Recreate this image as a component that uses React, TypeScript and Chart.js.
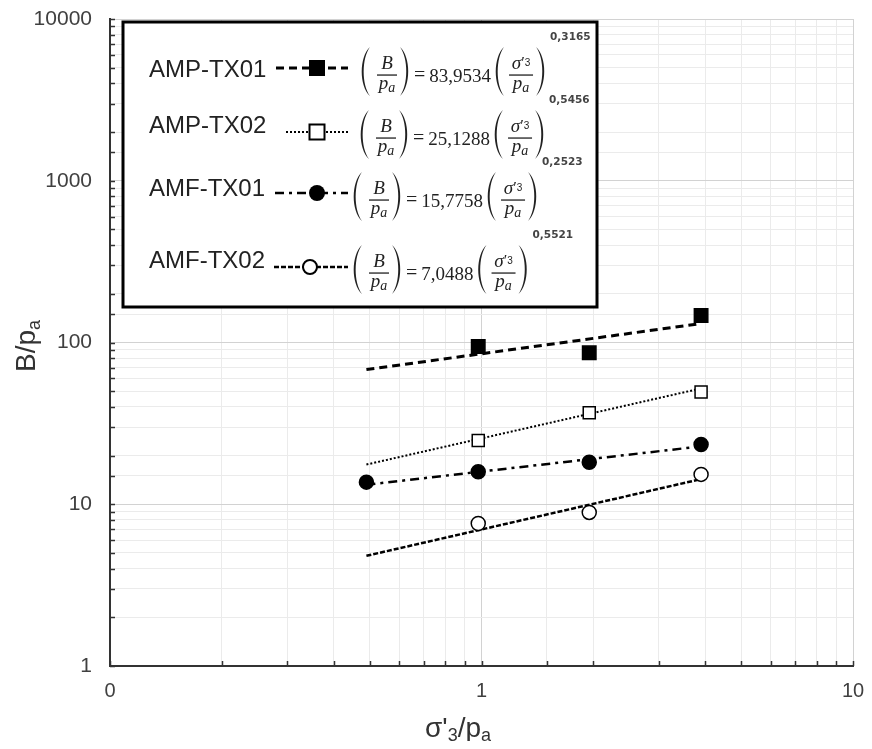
import React, { useEffect, useRef } from "react";
import { Chart, registerables } from "chart.js";

Chart.register(...registerables);

// ---- data ----
const ampTx01X = [0.98, 1.95, 3.9];
const ampTx01Y = [94.5, 86.4, 147];
const ampTx02X = [0.98, 1.95, 3.9];
const ampTx02Y = [24.8, 36.8, 49.4];
const amfTx01X = [0.49, 0.98, 1.95, 3.9];
const amfTx01Y = [13.7, 15.9, 18.2, 23.4];
const amfTx02X = [0.98, 1.95, 3.9];
const amfTx02Y = [7.6, 8.9, 15.3];

const fitX = [0.49, 3.9];
const ampTx01Fit = [68, 131];
const ampTx02Fit = [17.6, 52];
const amfTx01Fit = [13.2, 22.8];
const amfTx02Fit = [4.8, 14.3];

const xMajorTicks = [0.1, 1, 10];
const xMajorLabels = ["0", "1", "10"];
const yMajorTicks = [1, 10, 100, 1000, 10000];
const yMajorLabels = ["1", "10", "100", "1000", "10000"];

const legendNames = ["AMP-TX01", "AMP-TX02", "AMF-TX01", "AMF-TX02"];
const legendCoefs = ["83,9534", "25,1288", "15,7758", "7,0488"];
const legendExps = ["0,3165", "0,5456", "0,2523", "0,5521"];

const SANS = '"Liberation Sans", Arial, sans-serif';
const SERIF = '"Liberation Serif", "Times New Roman", serif';
const OFF = 8; // page -> canvas offset

const pts = (xs: number[], ys: number[]) => xs.map((x, i) => ({ x, y: ys[i] }));

function labelFor(v: number, ticks: number[], labels: string[]) {
  for (let i = 0; i < ticks.length; i++) {
    if (Math.abs(v - ticks[i]) / ticks[i] < 1e-6) return labels[i];
  }
  return "";
}
function isMajor(v: number) {
  const l = Math.log10(v);
  return Math.abs(l - Math.round(l)) < 1e-6;
}

type Part = { t: string; size: number; dy?: number; italic?: boolean; bold?: boolean; fam?: string };

function fontOf(p: Part) {
  return `${p.italic ? "italic " : ""}${p.bold ? "bold " : ""}${p.size}px ${p.fam || SANS}`;
}
function richWidth(ctx: CanvasRenderingContext2D, parts: Part[]) {
  let w = 0;
  for (const p of parts) {
    ctx.font = fontOf(p);
    w += ctx.measureText(p.t).width;
  }
  return w;
}
function drawRich(ctx: CanvasRenderingContext2D, parts: Part[], x: number, y: number, align: "left" | "center") {
  let cx = align === "center" ? x - richWidth(ctx, parts) / 2 : x;
  ctx.textAlign = "left";
  ctx.textBaseline = "alphabetic";
  for (const p of parts) {
    ctx.font = fontOf(p);
    ctx.fillText(p.t, cx, y + (p.dy || 0));
    cx += ctx.measureText(p.t).width;
  }
  return cx;
}

// paren occupying [x, x+w]
function drawParen(ctx: CanvasRenderingContext2D, x: number, top: number, bottom: number, left: boolean) {
  const h = bottom - top;
  const w = 10;
  const t = 2.6;
  ctx.beginPath();
  if (left) {
    ctx.moveTo(x + w, top);
    ctx.bezierCurveTo(x - 1, top + h * 0.2, x - 1, bottom - h * 0.2, x + w, bottom);
    ctx.bezierCurveTo(x - 1 + t, bottom - h * 0.23, x - 1 + t, top + h * 0.23, x + w, top);
  } else {
    ctx.moveTo(x, top);
    ctx.bezierCurveTo(x + w + 1, top + h * 0.2, x + w + 1, bottom - h * 0.2, x, bottom);
    ctx.bezierCurveTo(x + w + 1 - t, bottom - h * 0.23, x + w + 1 - t, top + h * 0.23, x, top);
  }
  ctx.fill();
}

function drawFraction(ctx: CanvasRenderingContext2D, cx: number, by: number, half: number, num: Part[], den: Part[]) {
  drawRich(ctx, num, cx, by - 6, "center");
  ctx.fillRect(cx - half, by - 0.6, half * 2, 1.3);
  drawRich(ctx, den, cx, by + 14, "center");
}

function drawFormula(ctx: CanvasRenderingContext2D, sx: number, by: number, coef: string, exp: string) {
  ctx.fillStyle = "#222";
  const top = by - 28;
  const bot = by + 21;
  drawParen(ctx, sx, top, bot, true);
  drawFraction(ctx, sx + 27, by, 10,
    [{ t: "B", size: 19, italic: true, fam: SERIF }],
    [{ t: "p", size: 19, italic: true, fam: SERIF }, { t: "a", size: 14, italic: true, fam: SERIF, dy: 3 }]);
  drawParen(ctx, sx + 40, top, bot, false);
  const eqEnd = drawRich(ctx, [{ t: "=", size: 20, fam: SERIF }], sx + 54, by + 6, "left");
  const cEnd = drawRich(ctx, [{ t: coef, size: 19, fam: SERIF }], eqEnd + 4, by + 7, "left");
  const lp = cEnd + 3;
  drawParen(ctx, lp, top, bot, true);
  drawFraction(ctx, lp + 27, by, 12,
    [{ t: "σ", size: 19, italic: true, fam: SERIF }, { t: "′", size: 16, fam: SERIF, dy: -1 }, { t: "3", size: 10, fam: SANS, dy: -3 }],
    [{ t: "p", size: 19, italic: true, fam: SERIF }, { t: "a", size: 14, italic: true, fam: SERIF, dy: 3 }]);
  drawParen(ctx, lp + 42, top, bot, false);
  ctx.fillStyle = "#444";
  drawRich(ctx, [{ t: exp, size: 10.5, bold: true, fam: '"DejaVu Sans", sans-serif' }], lp + 56, by - 35, "left");
}

function drawMarker(ctx: CanvasRenderingContext2D, kind: string, x: number, y: number) {
  ctx.setLineDash([]);
  ctx.lineWidth = 2;
  ctx.strokeStyle = "#000";
  if (kind === "fsq") {
    ctx.fillStyle = "#000";
    ctx.fillRect(x - 8, y - 8, 16, 16);
  } else if (kind === "osq") {
    ctx.fillStyle = "#fff";
    ctx.fillRect(x - 7.5, y - 7.5, 15, 15);
    ctx.strokeRect(x - 7.5, y - 7.5, 15, 15);
  } else if (kind === "fci") {
    ctx.fillStyle = "#000";
    ctx.beginPath();
    ctx.arc(x, y, 8, 0, Math.PI * 2);
    ctx.fill();
  } else {
    ctx.fillStyle = "#fff";
    ctx.beginPath();
    ctx.arc(x, y, 7, 0, Math.PI * 2);
    ctx.fill();
    ctx.stroke();
  }
}

const legendRows = [
  { labelY: 77, lineY: 68, x0: 276, x1: 348, dash: [8, 5], lw: 3, mk: "fsq", mx: 317, fx: 360, by: 75 },
  { labelY: 133, lineY: 132, x0: 286, x1: 348, dash: [2, 2], lw: 2, mk: "osq", mx: 317, fx: 359, by: 138 },
  { labelY: 196, lineY: 193, x0: 275, x1: 348, dash: [9, 5, 3, 5], lw: 2.5, mk: "fci", mx: 317, fx: 352, by: 200 },
  { labelY: 268, lineY: 267, x0: 274, x1: 348, dash: [5, 2], lw: 2.5, mk: "oci", mx: 310, fx: 352, by: 273 },
];

const overlayPlugin = {
  id: "overlay",
  afterDraw(chart: any) {
    const ctx: CanvasRenderingContext2D = chart.ctx;
    const xs = chart.scales.x;
    const ys = chart.scales.y;
    const area = chart.chartArea;
    ctx.save();
    // inward tick marks
    ctx.strokeStyle = "#333";
    ctx.lineWidth = 1.5;
    ctx.setLineDash([]);
    for (const t of xs.ticks) {
      const px = Math.round(xs.getPixelForValue(t.value)) + 0.5;
      ctx.beginPath();
      ctx.moveTo(px, area.bottom);
      ctx.lineTo(px, area.bottom - 5);
      ctx.stroke();
    }
    for (const t of ys.ticks) {
      const py = Math.round(ys.getPixelForValue(t.value)) + 0.5;
      ctx.beginPath();
      ctx.moveTo(area.left, py);
      ctx.lineTo(area.left + 5, py);
      ctx.stroke();
    }
    // axis titles
    ctx.fillStyle = "#333";
    drawRich(ctx, [
      { t: "σ'", size: 28 },
      { t: "3", size: 18, dy: 4 },
      { t: "/p", size: 28 },
      { t: "a", size: 18, dy: 4 },
    ], 458 - OFF, 737 - OFF, "center");
    ctx.save();
    ctx.translate(35 - OFF, 346 - OFF);
    ctx.rotate(-Math.PI / 2);
    drawRich(ctx, [
      { t: "B/p", size: 28 },
      { t: "a", size: 18, dy: 5 },
    ], 0, 0, "center");
    ctx.restore();

    // legend box
    const bx = 123 - OFF, by = 22 - OFF, bw = 597 - 123, bh = 307 - 22;
    ctx.fillStyle = "#fff";
    ctx.fillRect(bx, by, bw, bh);
    ctx.strokeStyle = "#000";
    ctx.lineWidth = 3;
    ctx.strokeRect(bx, by, bw, bh);

    legendRows.forEach((r, i) => {
      ctx.fillStyle = "#222";
      drawRich(ctx, [{ t: legendNames[i], size: 24 }], 149 - OFF, r.labelY - OFF, "left");
      ctx.strokeStyle = "#000";
      ctx.lineWidth = r.lw;
      ctx.setLineDash(r.dash);
      ctx.beginPath();
      ctx.moveTo(r.x0 - OFF, r.lineY - OFF);
      ctx.lineTo(r.x1 - OFF, r.lineY - OFF);
      ctx.stroke();
      drawMarker(ctx, r.mk, r.mx - OFF, r.lineY - OFF);
      drawFormula(ctx, r.fx - OFF, r.by - OFF, legendCoefs[i], legendExps[i]);
    });
    ctx.restore();
  },
};

export default function App() {
  const ref = useRef<HTMLCanvasElement>(null);
  useEffect(() => {
    if (!ref.current) return;
    const pointDs = (data: any, style: string, r: number, fill: string) => ({
      data,
      showLine: false,
      pointStyle: style,
      pointRadius: r,
      pointBackgroundColor: fill,
      pointBorderColor: "#000",
      pointBorderWidth: 1.5,
      order: 0,
    });
    const lineDs = (data: any, dash: number[], w: number) => ({
      data,
      showLine: true,
      borderColor: "#000",
      borderWidth: w,
      borderDash: dash,
      pointRadius: 0,
      fill: false,
      order: 1,
    });
    const chart = new Chart(ref.current, {
      type: "scatter",
      data: {
        datasets: [
          { label: "AMP-TX01", ...pointDs(pts(ampTx01X, ampTx01Y), "rect", 9.5, "#000") },
          { label: "AMP-TX02", ...pointDs(pts(ampTx02X, ampTx02Y), "rect", 8.5, "#fff") },
          { label: "AMF-TX01", ...pointDs(pts(amfTx01X, amfTx01Y), "circle", 7, "#000") },
          { label: "AMF-TX02", ...pointDs(pts(amfTx02X, amfTx02Y), "circle", 7, "#fff") },
          { label: "fit AMP-TX01", ...lineDs(pts(fitX, ampTx01Fit), [8, 5], 3) },
          { label: "fit AMP-TX02", ...lineDs(pts(fitX, ampTx02Fit), [2, 2], 2) },
          { label: "fit AMF-TX01", ...lineDs(pts(fitX, amfTx01Fit), [9, 5, 3, 5], 2.5) },
          { label: "fit AMF-TX02", ...lineDs(pts(fitX, amfTx02Fit), [5, 2], 2.5) },
        ] as any,
      },
      options: {
        animation: false,
        responsive: false,
        devicePixelRatio: 1,
        layout: { padding: { top: 10, right: 8, left: 0, bottom: 0 } },
        plugins: { legend: { display: false }, tooltip: { enabled: false } },
        scales: {
          x: {
            type: "logarithmic",
            min: 0.1,
            max: 10,
            afterFit: (s: any) => {
              s.height = 75;
              s.paddingLeft = 0;
              s.paddingRight = 0;
              s.paddingTop = 0;
              s.paddingBottom = 0;
            },
            grid: {
              drawTicks: false,
              color: (c: any) => (c.tick && isMajor(c.tick.value) ? "#d2d2d2" : "#ebebeb"),
              lineWidth: 1,
            },
            border: { color: "#333", width: 2 },
            ticks: {
              autoSkip: false,
              maxRotation: 0,
              padding: 13,
              color: "#404040",
              font: { family: SANS, size: 20 },
              callback: (v: any) => labelFor(Number(v), xMajorTicks, xMajorLabels),
            },
          },
          y: {
            type: "logarithmic",
            min: 1,
            max: 10000,
            afterFit: (s: any) => {
              s.width = 102;
              s.paddingLeft = 0;
              s.paddingRight = 0;
              s.paddingTop = 0;
              s.paddingBottom = 0;
            },
            grid: {
              drawTicks: false,
              color: (c: any) => (c.tick && isMajor(c.tick.value) ? "#d2d2d2" : "#ebebeb"),
              lineWidth: 1,
            },
            border: { color: "#333", width: 2 },
            ticks: {
              autoSkip: false,
              padding: 18,
              color: "#404040",
              font: { family: SANS, size: 21 },
              callback: (v: any) => labelFor(Number(v), yMajorTicks, yMajorLabels),
            },
          },
        },
      } as any,
      plugins: [overlayPlugin],
    });
    return () => chart.destroy();
  }, []);
  return <canvas ref={ref} width={856} height={733} style={{ display: "block" }} />;
}
